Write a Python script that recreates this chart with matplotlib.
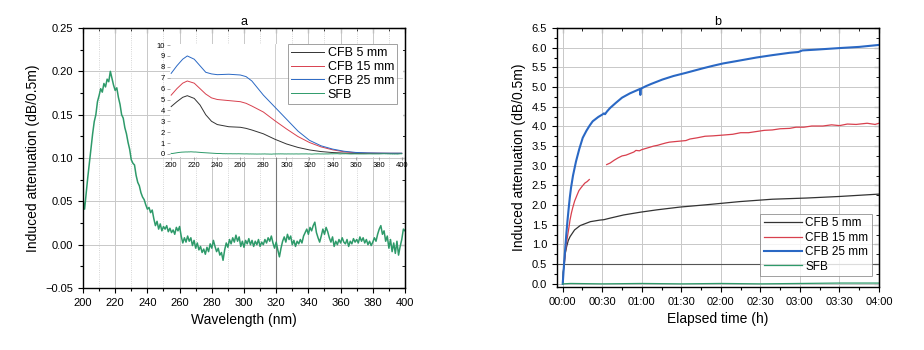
import numpy as np
import matplotlib
matplotlib.use("Agg")
import matplotlib.pyplot as plt
from matplotlib.ticker import MultipleLocator, FuncFormatter

plt.rcParams['font.family'] = ['Liberation Sans', 'DejaVu Sans']

# ---- panel a: SFB spectrum (1 nm steps, 200..400 nm) ----
wl = np.arange(200, 401)
sfb_spec = [
    0.052, 0.041, 0.060, 0.078, 0.095, 0.112, 0.128, 0.142, 0.150, 0.165,
    0.172, 0.180, 0.176, 0.186, 0.182, 0.191, 0.188, 0.200, 0.192, 0.184,
    0.178, 0.181, 0.170, 0.162, 0.150, 0.146, 0.135, 0.128, 0.118, 0.110,
    0.098, 0.094, 0.092, 0.080, 0.072, 0.068, 0.060, 0.055, 0.052, 0.046,
    0.041, 0.043, 0.037, 0.040, 0.030, 0.022, 0.027, 0.018, 0.024, 0.016,
    0.021, 0.018, 0.022, 0.015, 0.019, 0.014, 0.017, 0.012, 0.020, 0.016,
    0.021, 0.010, 0.002, 0.008, 0.003, 0.010, 0.004, 0.008, -0.001, 0.005,
    -0.004, 0.002, -0.006, -0.002, -0.009, -0.005, -0.011, -0.003, -0.008, 0.001,
    -0.004, 0.005, -0.002, -0.008, -0.004, -0.012, -0.009, -0.018, -0.006, 0.002,
    -0.003, 0.006, 0.001, 0.008, 0.003, 0.011, 0.004, 0.009, -0.002, 0.004,
    -0.003, 0.005, 0.001, 0.007, 0.000, 0.005, -0.002, 0.004, 0.000, 0.006,
    -0.002, 0.003, 0.000, 0.006, 0.002, 0.008, 0.004, 0.010, 0.002, -0.004,
    0.003, -0.006, -0.014, -0.004, 0.004, 0.009, 0.003, 0.012, 0.006, 0.010,
    0.000, 0.005, -0.002, 0.004, 0.001, 0.006, 0.002, 0.010, 0.014, 0.018,
    0.012, 0.020, 0.016, 0.022, 0.026, 0.014, 0.008, 0.003, 0.010, 0.018,
    0.012, 0.020, 0.015, 0.008, 0.003, 0.009, -0.002, 0.004, 0.000, 0.006,
    0.002, 0.008, 0.003, 0.001, 0.006, -0.002, 0.004, 0.001, 0.007, 0.003,
    0.006, 0.002, 0.009, 0.004, 0.008, 0.002, 0.006, 0.000, 0.004, -0.001,
    0.003, 0.008, 0.004, 0.012, 0.018, 0.022, 0.012, 0.016, 0.004, 0.010,
    -0.004, 0.006, -0.008, 0.002, -0.010, 0.004, -0.012, -0.002, 0.006, 0.018,
    0.016,
]

# inset spectra of the CFB samples
inset_wl = [200, 205, 210, 214, 220, 225, 230, 235, 240, 250, 260, 265, 270,
            280, 290, 300, 310, 320, 330, 340, 350, 360, 370, 380, 390, 400]
cfb25_spec = [7.4, 8.1, 8.7, 9.0, 8.7, 8.1, 7.5, 7.35, 7.28, 7.32, 7.25, 7.1, 6.7,
              5.4, 4.3, 3.2, 2.1, 1.25, 0.75, 0.45, 0.25, 0.14, 0.1, 0.08, 0.07, 0.07]
cfb15_spec = [5.4, 6.0, 6.5, 6.7, 6.5, 6.0, 5.5, 5.15, 5.0, 4.9, 4.8, 4.65, 4.4,
              3.85, 3.05, 2.3, 1.6, 1.05, 0.65, 0.38, 0.2, 0.11, 0.08, 0.07, 0.06, 0.06]
cfb5_spec = [4.35, 4.8, 5.2, 5.35, 5.1, 4.5, 3.6, 3.0, 2.7, 2.5, 2.45, 2.35, 2.2,
             1.85, 1.35, 0.92, 0.6, 0.37, 0.22, 0.13, 0.08, 0.05, 0.05, 0.05, 0.05, 0.05]

# ---- panel b: growth kinetics (time in hours) ----
cfb5_t = [0, 0.005, 0.017, 0.03, 0.05, 0.07, 0.093, 0.15, 0.22, 0.35, 0.47, 0.52,
          0.6, 0.77, 0.98, 1.19, 1.48, 1.82, 2.24, 2.65, 3.08, 3.5, 4.0]
cfb5_v = [0, 0.3, 0.44, 0.75, 0.95, 1.1, 1.2, 1.37, 1.48, 1.58, 1.62, 1.63,
          1.67, 1.75, 1.82, 1.88, 1.95, 2.01, 2.09, 2.15, 2.18, 2.22, 2.28]

cfb15_t = [0.02, 0.03, 0.045, 0.06, 0.08, 0.092, 0.11, 0.126, 0.15, 0.18, 0.205,
           0.231, 0.255, 0.28, 0.31, 0.336, np.nan,
           0.556, 0.60, 0.65, 0.70, 0.75, 0.80, 0.85, 0.90, 0.926, 0.97, 1.00, 1.05,
           1.10, 1.15, 1.20, 1.25, 1.305, 1.35, 1.45, 1.557, 1.61, 1.70, 1.80, 1.90,
           2.03, 2.15, 2.25, 2.35, 2.45, 2.55, 2.65, 2.75, 2.87, 2.95, 3.05, 3.15,
           3.29, 3.40, 3.50, 3.60, 3.71, 3.85, 3.95, 4.0]
cfb15_v = [0.5, 0.75, 1.0, 1.2, 1.45, 1.62, 1.8, 1.93, 2.1, 2.25, 2.37,
           2.44, 2.5, 2.56, 2.6, 2.65, np.nan,
           3.03, 3.07, 3.14, 3.20, 3.25, 3.27, 3.31, 3.35, 3.39, 3.38, 3.41, 3.44,
           3.47, 3.50, 3.52, 3.55, 3.58, 3.60, 3.62, 3.64, 3.68, 3.71, 3.75, 3.76,
           3.78, 3.80, 3.84, 3.84, 3.87, 3.90, 3.91, 3.94, 3.95, 3.98, 3.98, 4.01,
           4.01, 4.04, 4.02, 4.06, 4.05, 4.08, 4.05, 4.08]

cfb25_t = [0, 0.01, 0.02, 0.03, 0.045, 0.06, 0.076, 0.09, 0.105, 0.13, 0.168, 0.21,
           0.253, 0.30, 0.34, 0.379, 0.45, 0.50, 0.52, 0.535, 0.56, 0.60, 0.673, 0.75,
           0.85, 0.93, 0.975, 0.982, 0.99, 1.05, 1.12, 1.26, 1.40, 1.557, 1.78, 1.90,
           2.03, 2.20, 2.45, 2.65, 2.87, 2.98, 3.03, 3.20, 3.50, 3.75, 4.0]
cfb25_v = [0, 0.3, 0.6, 0.85, 1.25, 1.6, 1.93, 2.2, 2.44, 2.75, 3.11, 3.43,
           3.71, 3.89, 4.02, 4.13, 4.24, 4.30, 4.33, 4.31, 4.38, 4.47, 4.60, 4.73,
           4.84, 4.91, 4.95, 4.80, 4.96, 5.02, 5.08, 5.19, 5.28, 5.36, 5.48, 5.54,
           5.60, 5.66, 5.75, 5.81, 5.87, 5.89, 5.93, 5.95, 5.99, 6.02, 6.07]

sfb_t = [0, 0.1, 0.5, 1.0, 1.5, 2.0, 2.5, 3.0, 3.5, 4.0]
sfb_v = [0.0, 0.01, 0.0, 0.01, 0.0, 0.01, 0.0, 0.01, 0.02, 0.02]

labels = ['CFB 5 mm', 'CFB 15 mm', 'CFB 25 mm', 'SFB']
c_black, c_red, c_blue, c_green = '#333333', '#d8404e', '#2a68c4', '#2e9a6a'
grid_c = '#c8c8c8'


def style_axes(ax):
    ax.tick_params(which='both', direction='out', labelsize=8, length=3.5, width=0.8)
    ax.tick_params(which='minor', length=2)
    for s in ax.spines.values():
        s.set_linewidth(1.0)
    top = ax.secondary_xaxis('top')
    top.tick_params(which='both', direction='in', labeltop=False, length=3.5)
    top.tick_params(which='minor', length=2)
    right = ax.secondary_yaxis('right')
    right.tick_params(which='both', direction='in', labelright=False, length=3.5)
    right.tick_params(which='minor', length=2)
    return top, right


fig = plt.figure(figsize=(9.24, 3.5), dpi=100)

# ---------------- panel a ----------------
ax1 = fig.add_axes([0.0898, 0.177, 0.3485, 0.743])
ax1.plot(wl, sfb_spec, color=c_green, lw=1.1)
ax1.set_xlim(200, 400)
ax1.set_ylim(-0.05, 0.25)
ax1.xaxis.set_major_locator(MultipleLocator(20))
ax1.xaxis.set_minor_locator(MultipleLocator(10))
ax1.yaxis.set_major_locator(MultipleLocator(0.05))
ax1.yaxis.set_minor_locator(MultipleLocator(0.025))
ax1.yaxis.set_major_formatter(FuncFormatter(lambda v, p: f'{v:.2f}'.replace('-', '\u2212')))
ax1.grid(True, which='major', color=grid_c, lw=0.7)
ax1.grid(True, which='minor', axis='x', color=grid_c, lw=0.6, ls=':')
ax1.axvline(320, ymax=0.5, color='#777777', lw=0.8, zorder=1)
ax1.set_axisbelow(True)
t1, r1 = style_axes(ax1)
t1.xaxis.set_major_locator(MultipleLocator(20))
t1.xaxis.set_minor_locator(MultipleLocator(10))
r1.yaxis.set_major_locator(MultipleLocator(0.05))
r1.yaxis.set_minor_locator(MultipleLocator(0.025))
ax1.set_xlabel('Wavelength (nm)', fontsize=10, labelpad=4)
ax1.set_ylabel('Induced attenuation (dB/0.5m)', fontsize=10, labelpad=4)
ax1.set_title('a', fontsize=9, pad=2)

# inset
axi = fig.add_axes([0.184, 0.5514, 0.252, 0.323])
axi.set_facecolor('white')
axi.plot(inset_wl, cfb5_spec, color=c_black, lw=0.7, label=labels[0])
axi.plot(inset_wl, cfb15_spec, color=c_red, lw=0.7, label=labels[1])
axi.plot(inset_wl, cfb25_spec, color=c_blue, lw=0.7, label=labels[2])
axi.plot(wl, sfb_spec, color=c_green, lw=0.7, label=labels[3])
axi.set_xlim(199, 401)
axi.set_ylim(-0.28, 10.1)
axi.xaxis.set_major_locator(MultipleLocator(20))
axi.yaxis.set_major_locator(MultipleLocator(1))
axi.tick_params(labelsize=5.5, length=2, width=0.5, pad=1.5, color='#888888')
for s in axi.spines.values():
    s.set_visible(False)
axi.axhline(7, color=grid_c, lw=0.6, zorder=0)
axi.axvline(290, color=grid_c, lw=0.6, zorder=0)
leg1 = axi.legend(loc='upper right', bbox_to_anchor=(0.975, 1.0), borderaxespad=0,
                  fontsize=9, frameon=True, fancybox=False, edgecolor='#888888',
                  handlelength=2.6, handletextpad=0.3, labelspacing=0.15,
                  borderpad=0.25)
leg1.get_frame().set_linewidth(0.7)

# ---------------- panel b ----------------
ax2 = fig.add_axes([0.6025, 0.18, 0.3488, 0.74])
ax2.plot(cfb5_t, cfb5_v, color=c_black, lw=0.9, label=labels[0])
ax2.plot(cfb15_t, cfb15_v, color=c_red, lw=0.9, label=labels[1])
ax2.plot(cfb25_t, cfb25_v, color=c_blue, lw=1.5, label=labels[2])
ax2.plot(sfb_t, sfb_v, color=c_green, lw=0.9, label=labels[3])
ax2.set_xlim(-0.076, 4.0)
ax2.set_ylim(-0.08, 6.5)
ax2.xaxis.set_major_locator(MultipleLocator(0.5))
ax2.xaxis.set_minor_locator(MultipleLocator(0.25))
ax2.xaxis.set_major_formatter(FuncFormatter(
    lambda v, p: f'{int(round(v * 60)) // 60:02d}:{int(round(v * 60)) % 60:02d}'))
ax2.yaxis.set_major_locator(MultipleLocator(0.5))
ax2.yaxis.set_minor_locator(MultipleLocator(0.25))
ax2.yaxis.set_major_formatter(FuncFormatter(lambda v, p: f'{v:.1f}'))
ax2.grid(True, which='major', color=grid_c, lw=0.7)
ax2.axhline(0.5, color='#555555', lw=0.8, zorder=1)
ax2.set_axisbelow(True)
t2, r2 = style_axes(ax2)
t2.xaxis.set_major_locator(MultipleLocator(0.5))
t2.xaxis.set_minor_locator(MultipleLocator(0.25))
r2.yaxis.set_major_locator(MultipleLocator(0.5))
r2.yaxis.set_minor_locator(MultipleLocator(0.25))
ax2.set_xlabel('Elapsed time (h)', fontsize=10, labelpad=4)
ax2.set_ylabel('Induced attenuation (dB/0.5m)', fontsize=10, labelpad=4)
ax2.set_title('b', fontsize=9, pad=2)
leg2 = ax2.legend(loc='lower right', bbox_to_anchor=(0.978, 0.042), borderaxespad=0,
                  fontsize=8.5, frameon=True, fancybox=False, edgecolor='#888888',
                  handlelength=3.2, handletextpad=0.3, labelspacing=0.2,
                  borderpad=0.3)
leg2.get_frame().set_linewidth(0.7)

fig.savefig('out.png', dpi=100)
